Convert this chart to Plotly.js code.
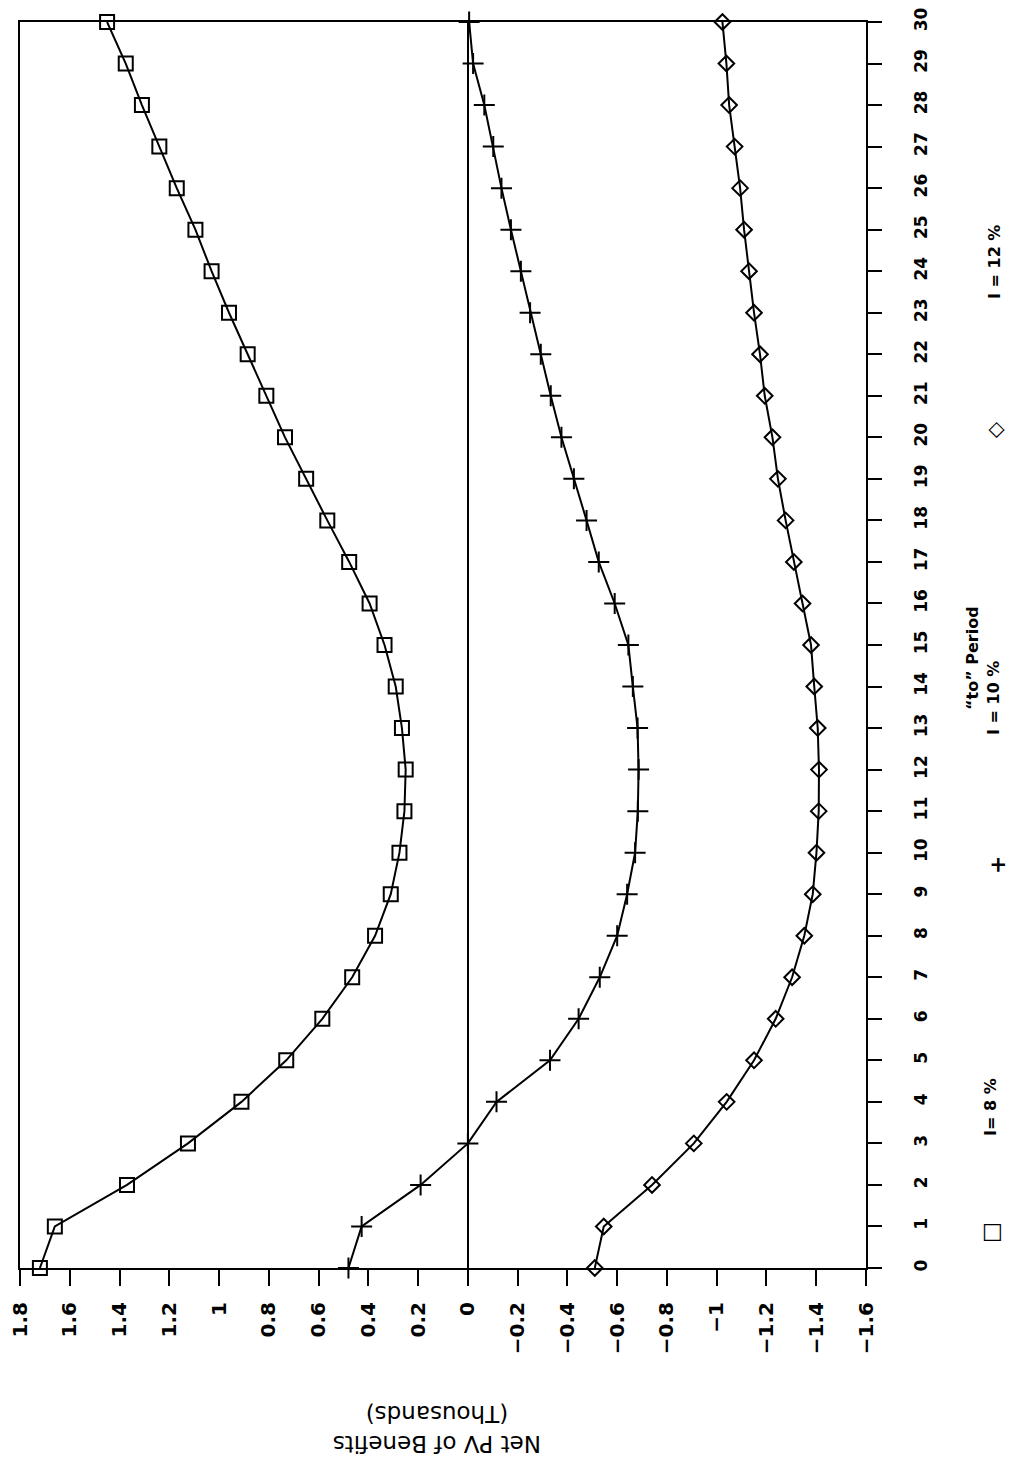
<!DOCTYPE html>
<html>
<head>
<meta charset="utf-8">
<script src="https://cdn.plot.ly/plotly-3.0.1.min.js"></script>
<style>html,body{margin:0;padding:0;background:#fff;}#chart{width:1013px;height:1465px;}</style>
</head>
<body>
<div id="chart"></div>
<script>
// "to" period (vertical axis in the rotated chart)
const periods = [0,1,2,3,4,5,6,7,8,9,10,11,12,13,14,15,16,17,18,19,20,21,22,23,24,25,26,27,28,29,30];
// Net PV of benefits (thousands), I = 8 %
const npv8 = [1.72,1.66,1.37,1.125,0.91,0.73,0.585,0.465,0.373,0.31,0.275,0.255,0.25,0.265,0.29,0.335,0.395,0.477,0.565,0.65,0.735,0.81,0.885,0.96,1.03,1.095,1.17,1.24,1.31,1.375,1.45];
// I = 10 %
const npv10 = [0.48,0.427,0.19,0.0,-0.115,-0.33,-0.445,-0.53,-0.6,-0.64,-0.672,-0.683,-0.686,-0.682,-0.663,-0.645,-0.59,-0.526,-0.477,-0.426,-0.376,-0.333,-0.293,-0.25,-0.213,-0.173,-0.135,-0.102,-0.066,-0.021,-0.005];
// I = 12 %
const npv12 = [-0.51,-0.546,-0.74,-0.908,-1.04,-1.15,-1.237,-1.303,-1.352,-1.386,-1.401,-1.41,-1.411,-1.406,-1.392,-1.379,-1.345,-1.31,-1.277,-1.246,-1.224,-1.193,-1.174,-1.15,-1.13,-1.11,-1.094,-1.072,-1.05,-1.039,-1.023];
// value axis ticks
const valueTicks = [1.8,1.6,1.4,1.2,1,0.8,0.6,0.4,0.2,0,-0.2,-0.4,-0.6,-0.8,-1,-1.2,-1.4,-1.6];
const valueTickText = ["1.8","1.6","1.4","1.2","1","0.8","0.6","0.4","0.2","0","\u22120.2","\u22120.4","\u22120.6","\u22120.8","\u22121","\u22121.2","\u22121.4","\u22121.6"];
const periodTickText = periods.map(String);
const seriesNames = ["I= 8 %","I = 10 %","I = 12 %"];
const valueTitle = "Net PV of Benefits<br>(Thousands)";
const periodTitle = "\u201Cto\u201D Period";

const W = 1013, H = 1465;
const M = {l: 20, r: 147, t: 22, b: 197};
const pw = W - M.l - M.r, ph = H - M.t - M.b;
function px(x){ return (x - M.l) / pw; }
function py(y){ return (H - M.b - y) / ph; }

const lineStyle = {color: '#000', width: 2};
const traces = [
  {x: npv8, y: periods, name: seriesNames[0], type: 'scatter', mode: 'lines+markers',
   line: lineStyle, cliponaxis: false,
   marker: {symbol: 'square-open', size: 14, color: '#000', line: {width: 2, color: '#000'}}},
  {x: npv10, y: periods, name: seriesNames[1], type: 'scatter', mode: 'lines+markers',
   line: lineStyle, cliponaxis: false,
   marker: {symbol: 'cross-thin-open', size: 15, color: '#000', line: {width: 2, color: '#000'}}},
  {x: npv12, y: periods, name: seriesNames[2], type: 'scatter', mode: 'lines+markers',
   line: lineStyle, cliponaxis: false,
   marker: {symbol: 'diamond-open', size: 12, color: '#000', line: {width: 2, color: '#000'}}}
];

const font = "DejaVu Sans, sans-serif";
function ann(text, x, y, size, extra){
  return Object.assign({text: text, xref: 'paper', yref: 'paper', x: px(x), y: py(y),
    xanchor: 'center', yanchor: 'middle', showarrow: false, textangle: -90,
    font: {family: font, size: size, color: '#000', weight: 'bold'}}, extra || {});
}

const layout = {
  width: W, height: H,
  margin: M,
  paper_bgcolor: '#fff', plot_bgcolor: '#fff',
  showlegend: false,
  font: {family: font, color: '#000'},
  xaxis: {
    range: [1.8, -1.6], autorange: false,
    tickvals: valueTicks, ticktext: valueTickText,
    tickangle: -90, ticks: 'outside', ticklen: 16, tickwidth: 2, tickcolor: '#000',
    ticklabelstandoff: 8,
    tickfont: {family: font, size: 20, color: '#000', weight: 'bold'},
    showline: true, linecolor: '#000', linewidth: 2, mirror: true,
    showgrid: false, zeroline: true, zerolinecolor: '#000', zerolinewidth: 2
  },
  yaxis: {
    range: [0, 30], autorange: false, side: 'right',
    tickvals: periods, ticktext: periodTickText,
    tickangle: -90, ticks: 'outside', ticklen: 14, tickwidth: 2, tickcolor: '#000',
    ticklabelstandoff: 25,
    tickfont: {family: font, size: 17, color: '#000', weight: 'bold'},
    showline: true, linecolor: '#000', linewidth: 2, mirror: true,
    showgrid: false, zeroline: false
  },
  annotations: [
    ann(valueTitle, 437, 1429, 23, {textangle: 180, font: {family: font, size: 23, color: '#000'}}),
    ann(periodTitle, 972, 658, 16),
    ann("\u25A1", 990, 1233, 22, {font: {family: font, size: 22, color: '#000'}}),
    ann(seriesNames[0], 990, 1107, 16),
    ann("+", 997, 865, 22),
    ann(seriesNames[1], 993, 698, 16),
    ann("\u25C7", 995, 430, 21),
    ann(seriesNames[2], 994, 262, 16)
  ]
};

Plotly.newPlot('chart', traces, layout, {staticPlot: true, displayModeBar: false});
</script>
</body>
</html>
